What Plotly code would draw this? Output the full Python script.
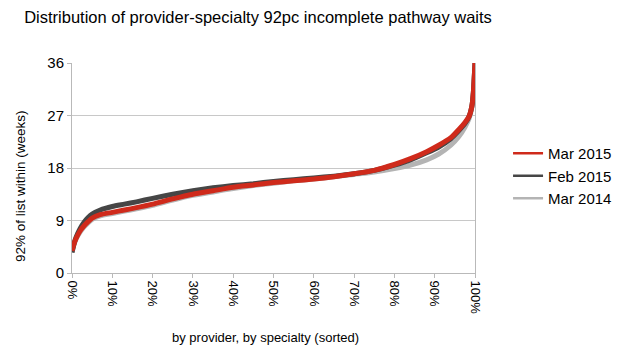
import plotly.graph_objects as go

# Share of provider-specialty combinations (sorted), in percent
pct = [0, 0.5, 1, 2, 3, 4, 5, 7, 10, 13, 16, 20, 25, 30, 35, 40, 45, 50, 55,
       60, 65, 70, 75, 80, 84, 88, 91, 94, 96, 97.5, 98.5, 99.2, 99.6, 100]

# 92nd percentile incomplete pathway wait (weeks)
mar_2015 = [3.8, 5.0, 5.9, 7.2, 8.1, 8.8, 9.4, 10.0, 10.4, 10.8, 11.2, 11.8,
            12.7, 13.5, 14.1, 14.7, 15.1, 15.5, 15.8, 16.1, 16.5, 17.0, 17.6,
            18.6, 19.6, 20.8, 21.9, 23.2, 24.6, 25.8, 26.8, 28.5, 31.0, 36.0]
feb_2015 = [3.5, 5.0, 6.1, 7.6, 8.7, 9.5, 10.1, 10.8, 11.4, 11.8, 12.2, 12.8,
            13.5, 14.1, 14.6, 15.0, 15.3, 15.7, 16.0, 16.3, 16.6, 17.0, 17.6,
            18.5, 19.4, 20.6, 21.6, 23.0, 24.4, 25.6, 26.8, 28.5, 31.0, 36.0]
mar_2014 = [3.6, 4.9, 5.8, 7.0, 7.9, 8.6, 9.2, 9.8, 10.2, 10.6, 11.0, 11.6,
            12.5, 13.3, 13.9, 14.5, 15.0, 15.4, 15.8, 16.1, 16.5, 16.9, 17.3,
            17.9, 18.5, 19.4, 20.4, 21.9, 23.4, 25.0, 26.4, 28.3, 31.0, 36.0]

x_ticks = list(range(0, 101, 10))
x_tick_labels = [f"{t}%" for t in x_ticks]
y_ticks = [0, 9, 18, 27, 36]

FONT = "Liberation Sans, Arial, Helvetica, sans-serif"
RED = "#cf2a1b"
DARK = "#464646"
LIGHT = "#b4b4b4"

series = [("Mar 2014", mar_2014, LIGHT, 3),
          ("Feb 2015", feb_2015, DARK, 2),
          ("Mar 2015", mar_2015, RED, 1)]

fig = go.Figure()
# thick curves, drawn back to front: lightest series underneath
for name, values, color, rank in series:
    fig.add_trace(go.Scatter(x=pct, y=values, name=name, mode="lines",
                             line=dict(color=color, width=5, shape="spline",
                                       smoothing=0.6),
                             showlegend=False))
# thin keys for the legend
for name, values, color, rank in series:
    fig.add_trace(go.Scatter(x=[None], y=[None], name=name, mode="lines",
                             line=dict(color=color, width=2.5),
                             legendrank=rank, showlegend=True))

fig.update_layout(
    width=623, height=349,
    margin=dict(l=72, r=148, t=63, b=76, autoexpand=False),
    paper_bgcolor="white", plot_bgcolor="white",
    font=dict(family=FONT, color="black", size=14),
    title=dict(text="Distribution of provider-specialty 92pc incomplete pathway waits",
               x=258 / 623, xanchor="center", y=1 - 17 / 349, yanchor="middle",
               font=dict(size=16.5, family=FONT, color="black")),
    legend=dict(x=1.082, y=(273 - 176) / 210, xanchor="left", yanchor="middle",
                font=dict(size=15), tracegroupgap=0, itemwidth=30,
                bgcolor="rgba(0,0,0,0)"),
    showlegend=True,
)

fig.update_xaxes(range=[0, 100], tickvals=x_ticks, ticktext=x_tick_labels,
                 tickangle=90, tickfont=dict(size=13),
                 showgrid=False, zeroline=False,
                 showline=True, linecolor="#b9b9b9", linewidth=1,
                 ticks="outside", ticklen=4, tickcolor="#b9b9b9")
fig.update_yaxes(range=[0, 36], tickvals=y_ticks, tickfont=dict(size=15),
                 showgrid=True, gridcolor="#c8c8c8", gridwidth=1, zeroline=False,
                 showline=True, mirror=True, linecolor="#b9b9b9", linewidth=1,
                 ticks="outside", ticklen=4, tickcolor="#b9b9b9")

fig.add_annotation(text="92% of list within (weeks)", textangle=-90,
                   xref="paper", yref="paper", x=-(72 - 20) / 403,
                   y=(273 - 186) / 210, xanchor="center", yanchor="middle",
                   showarrow=False, font=dict(size=13.5))
fig.add_annotation(text="by provider, by specialty (sorted)",
                   xref="paper", yref="paper", x=(265 - 72) / 403,
                   y=-(337 - 273) / 210, xanchor="center", yanchor="middle",
                   showarrow=False, font=dict(size=13))

fig.write_html("out.html")
